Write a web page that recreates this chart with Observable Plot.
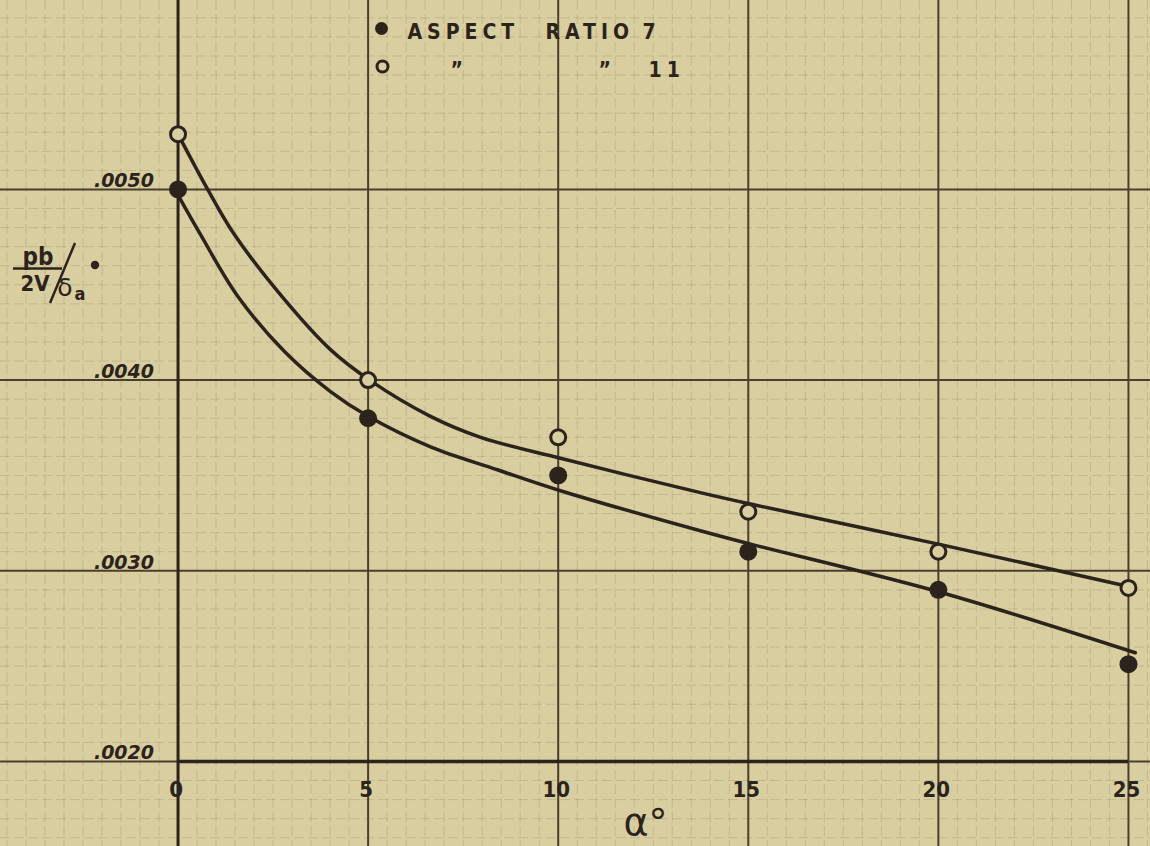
<!DOCTYPE html>
<html><head><meta charset="utf-8">
<script src="https://cdn.jsdelivr.net/npm/d3@7"></script>
<script src="https://cdn.jsdelivr.net/npm/@observablehq/plot@0.6"></script>
<style>
html,body{margin:0;padding:0;background:#d9cea0;}
#chart{width:1150px;height:846px;overflow:hidden;}
</style></head><body><div id="chart"></div>
<script>
// ---- data ----
const alphaDeg = [0, 5, 10, 15, 20, 25];
const ar7Values = [0.00500, 0.00380, 0.00350, 0.00310, 0.00290, 0.00251];   // filled dots
const ar11Values = [0.00529, 0.00400, 0.00370, 0.00331, 0.00310, 0.00291];  // open circles

// faired curves, points
const curve7X = [0, 0.6, 1.57, 2.8, 4.01, 5.0, 6.64, 8.4, 10.06, 13.74, 15.06, 20.0, 25.18];
const curve7Y = [0.00497, 0.00476, 0.00444, 0.00415, 0.00394, 0.00381, 0.00365, 0.00353, 0.00342, 0.00321, 0.00314, 0.00289, 0.00257];
const curve11X = [0, 0.78, 1.46, 2.77, 4.01, 5.04, 6.64, 7.96, 10.06, 13.74, 15.06, 20.0, 25.18];
const curve11Y = [0.00529, 0.00500, 0.00477, 0.00443, 0.00416, 0.00400, 0.00381, 0.00370, 0.00359, 0.00341, 0.00335, 0.00314, 0.00291];

const xTicks = [0, 5, 10, 15, 20, 25];
const xTickLabels = ["0", "5", "10", "15", "20", "25"];
const yTicks = [0.0020, 0.0030, 0.0040, 0.0050];
const yTickLabels = [".0020", ".0030", ".0040", ".0050"];
const legendLine1 = ["ASPECT", "RATIO", "7"];
const legendLine2 = ["\u201D", "\u201D", "11"];
const xLabel = "\u03B1\u00B0";

// ---- layout of legend words (pixels from the top-left corner) ----
const legend1Left = [407, 545, 642];
const legend2Left = [450, 598, 648];

// ---- build tables ----
const pts7 = alphaDeg.map((a, i) => ({a, v: ar7Values[i]}));
const pts11 = alphaDeg.map((a, i) => ({a, v: ar11Values[i]}));
const c7 = curve7X.map((a, i) => ({a, v: curve7Y[i]}));
const c11 = curve11X.map((a, i) => ({a, v: curve11Y[i]}));
const xt = xTicks.map((a, i) => ({a, label: xTickLabels[i]}));
const yt = yTicks.map((v, i) => ({v, label: yTickLabels[i]}));

const minorX = d3.range(-9, 52).map(k => k / 2).filter(d => d % 5 !== 0);
const minorY = d3.range(15, 61).map(k => k / 10000).filter(d => Math.round(d * 10000) % 10 !== 0);

const paper = "#d9cea0";
const ink = "#2b231c";
const lineInk = "#4a3e2d";
const font = "DejaVu Sans Condensed, DejaVu Sans, sans-serif";

function yLabelMark() {
  const g = d3.create("svg:g").attr("fill", ink).attr("font-family", font).attr("font-weight", "bold");
  g.append("text").attr("x", 38).attr("y", 265).attr("text-anchor", "middle").attr("font-size", 24).text("pb");
  g.append("line").attr("x1", 13).attr("x2", 62).attr("y1", 268.5).attr("y2", 268.5).attr("stroke", ink).attr("stroke-width", 2.5);
  g.append("text").attr("x", 35).attr("y", 291).attr("text-anchor", "middle").attr("font-size", 22).text("2V");
  g.append("line").attr("x1", 50).attr("y1", 303).attr("x2", 75).attr("y2", 243).attr("stroke", ink).attr("stroke-width", 2.5);
  g.append("text").attr("x", 65).attr("y", 296).attr("font-size", 25).attr("font-weight", "normal").attr("font-family", "DejaVu Sans, sans-serif").text("\u03B4");
  g.append("text").attr("x", 80).attr("y", 300).attr("font-size", 18).attr("font-weight", "bold").text("a");
  g.append("circle").attr("cx", 95).attr("cy", 265).attr("r", 4.2);
  return g.node();
}

const legendText = (words, lefts, top) => words.map((w, i) =>
  Plot.text([w], {frameAnchor: "top-left", text: d => d, dx: lefts[i], dy: top, textAnchor: "start", lineAnchor: "bottom",
    fontSize: 21, fontWeight: "bold", fill: ink}));

const chart = Plot.plot({
  width: 1150,
  height: 846,
  margin: 0,
  x: {domain: [-4.67, 25.58], axis: null},
  y: {domain: [0.001554, 0.005991], axis: null},
  style: {background: paper, fontFamily: font},
  marks: [
    // graph paper
    Plot.ruleX(minorX, {stroke: "#6b5f45", strokeOpacity: 0.2, strokeWidth: 1, strokeDasharray: "10,4"}),
    Plot.ruleY(minorY, {stroke: "#6b5f45", strokeOpacity: 0.2, strokeWidth: 1, strokeDasharray: "10,4"}),
    Plot.ruleX(xTicks, {stroke: lineInk, strokeWidth: 2}),
    Plot.ruleY(yTicks, {stroke: lineInk, strokeWidth: 2}),
    // axes
    Plot.ruleX([0], {stroke: ink, strokeWidth: 3}),
    Plot.ruleY([0.0020], {x1: 0, x2: 25, stroke: ink, strokeWidth: 3.5}),
    // tick labels
    Plot.text(yt, {x: () => 0, y: "v", text: "label", textAnchor: "end", lineAnchor: "bottom", dx: -24, dy: -2,
      fontSize: 19, fontStyle: "italic", fontWeight: "bold", fill: ink, fontFamily: "DejaVu Sans, sans-serif"}),
    Plot.text(xt, {x: "a", y: () => 0.0020, text: "label", dy: 28, dx: -2, fontSize: 22, fontWeight: "bold", fill: ink}),
    Plot.text([xLabel], {frameAnchor: "bottom", text: d => d, dx: 70, dy: -12, lineAnchor: "bottom", fontSize: 38, fill: ink, fontFamily: "DejaVu Sans, sans-serif"}),
    // curves
    Plot.line(c11, {x: "a", y: "v", curve: "catmull-rom", stroke: ink, strokeWidth: 3.5}),
    Plot.line(c7, {x: "a", y: "v", curve: "catmull-rom", stroke: ink, strokeWidth: 3.5}),
    // data points
    Plot.dot(pts7, {x: "a", y: "v", r: 9, fill: ink, stroke: "none"}),
    Plot.dot(pts11, {x: "a", y: "v", r: 7.5, fill: paper, stroke: ink, strokeWidth: 3}),
    // legend
    Plot.dot([0], {frameAnchor: "top-left", dx: 381, dy: 28, r: 6.5, fill: ink, stroke: "none"}),
    Plot.dot([0], {frameAnchor: "top-left", dx: 382, dy: 66, r: 5.5, fill: "none", stroke: ink, strokeWidth: 3}),
    ...legendText(legendLine1, legend1Left, 38),
    ...legendText(legendLine2, legend2Left, 76),
    yLabelMark
  ]
});
const legendWords = new Set(legendLine1.concat(legendLine2));
d3.select(chart).selectAll("text").filter(function() { return legendWords.has(this.textContent); })
  .style("letter-spacing", "5px");
document.getElementById("chart").appendChild(chart);
</script></body></html>
